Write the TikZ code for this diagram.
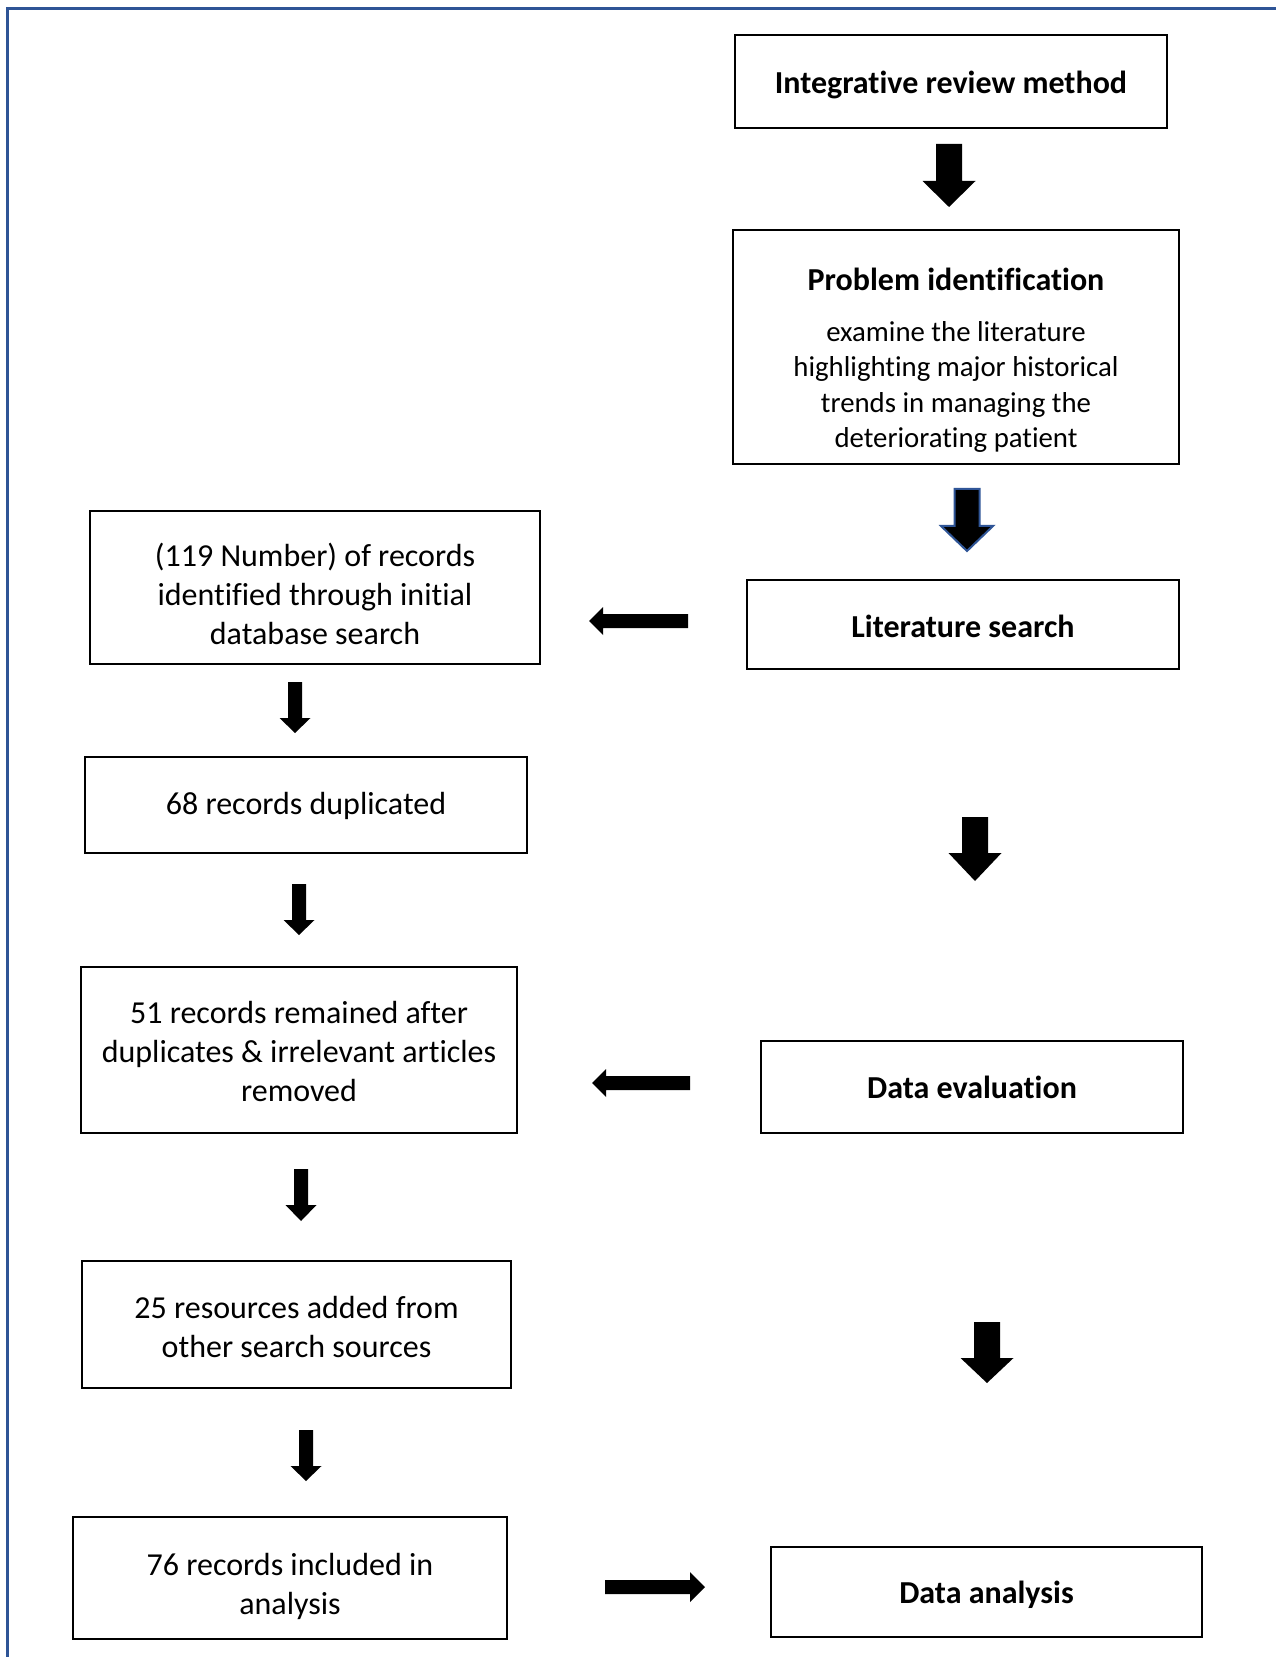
\documentclass[tikz,border=0pt]{standalone}
\usepackage{fontspec}
\setmainfont{Carlito}[Ligatures=NoCommon]
\definecolor{framebl}{RGB}{46,84,150}
\definecolor{arrbl}{RGB}{47,85,151}
\newcommand{\dnarrow}[7][]{%
  \fill[black,#1] ({#2-#6},#3) -- ({#2+#6},#3) -- ({#2+#6},#4) -- ({#2+#7},#4) -- (#2,#5) -- ({#2-#7},#4) -- ({#2-#6},#4) -- cycle;}
\newcommand{\hzarrow}[6]{%
  \fill[black] (#5,{#1-#4}) -- (#5,{#1+#4}) -- (#3,{#1+#4}) -- (#3,{#1+#6}) -- (#2,#1) -- (#3,{#1-#6}) -- (#3,{#1-#4}) -- cycle;}
\begin{document}
\begin{tikzpicture}[x=0.5pt,y=-0.5pt,
  box/.style={draw=black,line width=1pt,rectangle,inner sep=0pt,fill=white},
  txt/.style={inner sep=0pt,align=center},
  lft/.style={txt,font=\fontsize{16}{19.5}\selectfont},
  rgt/.style={txt,font=\fontsize{16}{18}\selectfont\bfseries},
  body/.style={txt,font=\fontsize{14.4}{17.8}\selectfont}]
\useasboundingbox (0,0) rectangle (1276,1657);
\fill[white] (0,0) rectangle (1276,1657);
% frame (top and left edges only visible)
\draw[framebl,line width=1.5pt] (7.5,1657) -- (7.5,9) -- (1276,9);
% boxes, right column
\node[box,minimum width=432*0.5pt,minimum height=93*0.5pt] (b1) at (951,81.5) {};
\node[box,minimum width=446*0.5pt,minimum height=234*0.5pt] (b2) at (956,347) {};
\node[box,minimum width=432*0.5pt,minimum height=89*0.5pt] (b3) at (963,624.5) {};
\node[box,minimum width=422*0.5pt,minimum height=92*0.5pt] (b7) at (972,1087) {};
\node[box,minimum width=431*0.5pt,minimum height=90*0.5pt] (b10) at (986.5,1592) {};
% boxes, left column
\node[box,minimum width=450*0.5pt,minimum height=153*0.5pt] (b4) at (315,587.5) {};
\node[box,minimum width=442*0.5pt,minimum height=96*0.5pt] (b5) at (306,805) {};
\node[box,minimum width=436*0.5pt,minimum height=166*0.5pt] (b6) at (299,1050) {};
\node[box,minimum width=429*0.5pt,minimum height=127*0.5pt] (b8) at (296.5,1324.5) {};
\node[box,minimum width=434*0.5pt,minimum height=122*0.5pt] (b9) at (290,1578) {};
% texts
\node[rgt] (t1) at (951,84.5) {Integrative review method};
\node[rgt] (t2a) at (956,279) {Problem identification};
\node[body] (t2b) at (956,387) {examine the literature\\highlighting major historical\\trends in managing the\\deteriorating patient};
\node[rgt] (t3) at (963,626.5) {Literature search};
\node[rgt] (t7) at (972,1087) {Data evaluation};
\node[rgt] (t10) at (986.5,1595) {Data analysis};
\node[lft] (t4) at (315,593.5) {(119 Number) of records\\identified through initial\\database search};
\node[lft] (t5) at (306,806) {68 records duplicated};
\node[lft] (t6) at (299,1051.5) {51 records remained after\\duplicates \& irrelevant articles\\removed};
\node[lft] (t8) at (296.5,1326.5) {25 resources added from\\other search sources};
\node[lft] (t9) at (290,1586) {76 records included in\\analysis};
% block arrows, right column
\dnarrow{949}{144}{181}{207}{13}{26.5}
\dnarrow[draw=arrbl,line width=1pt]{967}{489}{526}{551}{12.5}{26}
\dnarrow{975}{817}{853}{881}{13}{26.5}
\dnarrow{987}{1322}{1358}{1383}{13}{26.5}
% block arrows, left column
\dnarrow{295}{682}{718}{733}{7}{15.5}
\dnarrow{299}{884}{920}{935}{7}{15.5}
\dnarrow{301}{1169}{1205}{1221}{7}{15.5}
\dnarrow{306}{1430}{1466}{1481}{7}{15.5}
% horizontal arrows
\hzarrow{621}{589}{603}{7}{688}{14}
\hzarrow{1083}{592}{606}{7}{690}{14}
\hzarrow{1587}{705}{690}{7}{605}{15}
\end{tikzpicture}
\end{document}
